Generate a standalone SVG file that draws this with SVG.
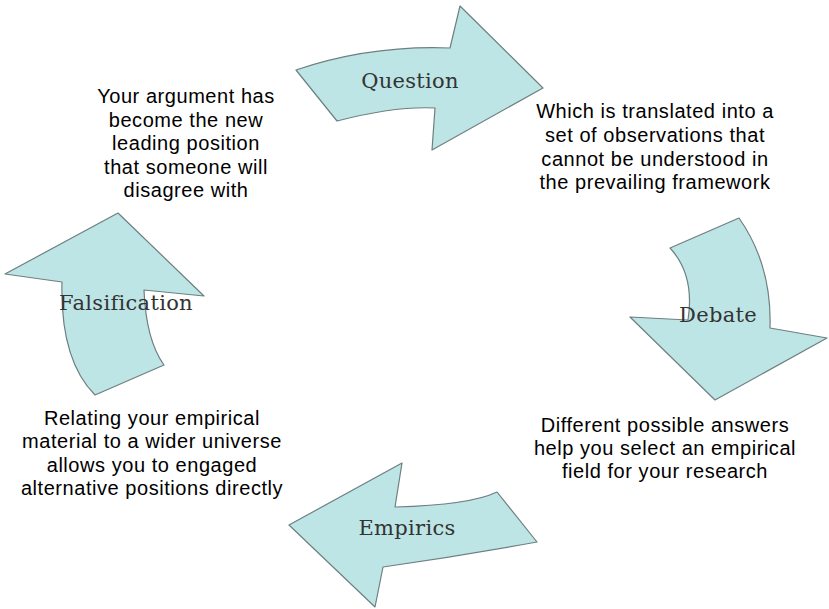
<svg xmlns="http://www.w3.org/2000/svg" width="829" height="609" viewBox="0 0 829 609">
<style>
.arrow{fill:#bde5e6;stroke:#6e7f80;stroke-width:1.2;stroke-linejoin:round}
.lbl{font-family:"DejaVu Serif","Liberation Serif",serif;font-size:21px;fill:#333;text-anchor:middle;letter-spacing:0.3px}
.txt{font-family:"Liberation Sans",Arial,sans-serif;font-size:20px;fill:#000;text-anchor:middle;letter-spacing:0.55px}
</style>
<rect width="829" height="609" fill="#fff"/>
<g id="connectors"/>
<g id="question">
<path class="arrow" d="M296,70 Q370,45 450,48 L460,6 L543,88 L432,150 L435,108 Q395,106 337,121 Z"/>
<text class="lbl" x="410" y="88">Question</text>
</g>
<g id="debate">
<path class="arrow" d="M670,248 L739,218 Q772,265 770,328 L827,338 L715,400 L630,317 L688,320 Q695,275 670,248 Z"/>
<text class="lbl" x="718" y="322">Debate</text>
</g>
<g id="empirics">
<path class="arrow" d="M289,525 L402,463 L395,507 Q470,505 497,492 L537,542 Q460,556 383,567 L375,607 Z"/>
<text class="lbl" x="407" y="535">Empirics</text>
</g>
<g id="falsification">
<path class="arrow" d="M118,213 L204,296 L144,290 Q146,340 164,365 L95,395 Q60,360 62,282 L5,274 Z"/>
<text class="lbl" x="126" y="310">Falsification</text>
</g>
<g id="text-topleft">
<text class="txt" x="186" y="103">Your argument has</text>
<text class="txt" x="186" y="127">become the new</text>
<text class="txt" x="186" y="150">leading position</text>
<text class="txt" x="186" y="174">that someone will</text>
<text class="txt" x="186" y="197">disagree with</text>
</g>
<g id="text-topright">
<text class="txt" x="655" y="118">Which is translated into a</text>
<text class="txt" x="655" y="142">set of observations that</text>
<text class="txt" x="655" y="166">cannot be understood in</text>
<text class="txt" x="655" y="189">the prevailing framework</text>
</g>
<g id="text-bottomright">
<text class="txt" x="665" y="432">Different possible answers</text>
<text class="txt" x="665" y="455">help you select an empirical</text>
<text class="txt" x="665" y="478">field for your research</text>
</g>
<g id="text-bottomleft">
<text class="txt" x="152" y="425">Relating your empirical</text>
<text class="txt" x="152" y="448">material to a wider universe</text>
<text class="txt" x="152" y="472">allows you to engaged</text>
<text class="txt" x="152" y="495">alternative positions directly</text>
</g>
</svg>
